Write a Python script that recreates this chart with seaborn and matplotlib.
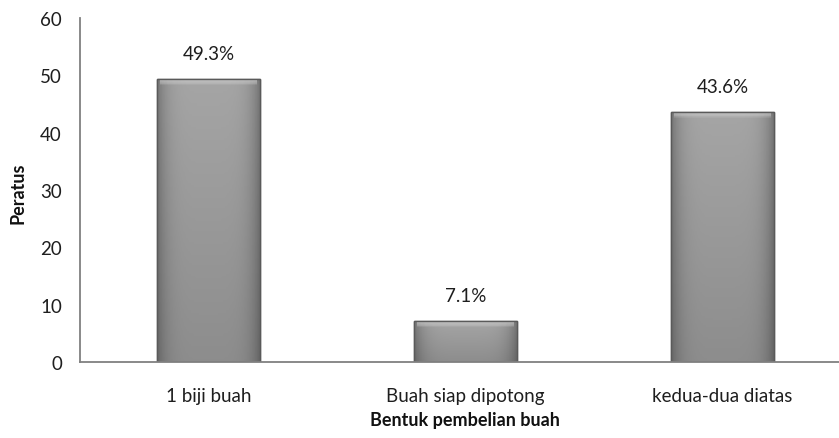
import numpy as np
import pandas as pd
import matplotlib
matplotlib.use("Agg")
import matplotlib.pyplot as plt
from matplotlib.colors import LinearSegmentedColormap
import seaborn as sns

categories = ["1 biji buah", "Buah siap dipotong", "kedua-dua diatas"]
percentages = [49.3, 7.1, 43.6]
y_ticks = [0, 10, 20, 30, 40, 50, 60]

sns.set_theme(style="white")
plt.rcParams["font.family"] = ["Lato", "DejaVu Sans"]

df = pd.DataFrame({"bentuk": categories, "peratus": percentages})

fig = plt.figure(figsize=(8.39, 4.39), dpi=100)
ax = fig.add_axes([80 / 839, 1 - 363 / 439, 759 / 839, 344 / 439])

sns.barplot(data=df, x="bentuk", y="peratus", ax=ax, color="#8c8c8c",
            width=0.40, edgecolor="#555555", linewidth=1.0, saturation=1)

# shaded fill for each bar: darker at the sides and bottom
grad_x = np.linspace(0, 1, 64)
side = 1 - 0.3 * (np.abs(grad_x - 0.5) * 2) ** 5
grad_y = np.linspace(0, 1, 128)
vert = 0.84 + 0.16 * grad_y
shade = np.outer(vert, side)
cmap = LinearSegmentedColormap.from_list("g", ["#4a4a4a", "#a5a5a5"])
for p in ax.patches:
    x0, y0 = p.get_x(), p.get_y()
    w, h = p.get_width(), p.get_height()
    z = p.get_zorder()
    im = ax.imshow(shade, extent=[x0, x0 + w, y0, y0 + h], origin="lower",
                   cmap=cmap, vmin=0.4, vmax=1.0, aspect="auto", zorder=z + 0.1)
    im.set_clip_path(p)
    # light bevel along the top edge, fading downward
    bevel = min(1.0, h * 0.25)
    for k in range(8):
        frac = k / 8
        ax.fill_between([x0 + w * 0.03, x0 + w * 0.97],
                        y0 + h - bevel * (1 - frac), y0 + h - 0.12,
                        color="#d0d0d0", alpha=0.14, linewidth=0, zorder=z + 0.2)
    ax.add_patch(plt.Rectangle((x0, y0), w, h, fill=False, edgecolor="#5a5a5a",
                               linewidth=1.0, zorder=z + 0.3))

for i, v in enumerate(percentages):
    ax.text(i, v + 3.0, f"{v}%", ha="center", va="bottom", fontsize=13.5, color="#1e1e1e")

ax.set_xlim(-0.5, -0.5 + 759 / 257)
ax.set_ylim(0, 60)
ax.set_yticks(y_ticks)
ax.tick_params(axis="y", labelsize=13.5, colors="#1e1e1e", length=0, pad=13)
ax.tick_params(axis="x", labelsize=13.5, colors="#1e1e1e", length=0, pad=18)
for s in ["top", "right"]:
    ax.spines[s].set_visible(False)
for s in ["left", "bottom"]:
    ax.spines[s].set_color("#808080")
    ax.spines[s].set_linewidth(1.3)

ax.set_ylabel("Peratus", fontsize=13, fontweight="bold", color="#111111")
ax.set_xlabel("Bentuk pembelian buah", fontsize=13, fontweight="bold", color="#111111")
ax.yaxis.set_label_coords(-62 / 759, (363 - 193) / 344)
ax.xaxis.set_label_coords((465 - 80) / 759, -(421 - 363) / 344)
ax.yaxis.label.set_va("center")
ax.xaxis.label.set_va("center")

fig.savefig("out.png", dpi=100, facecolor="white")
